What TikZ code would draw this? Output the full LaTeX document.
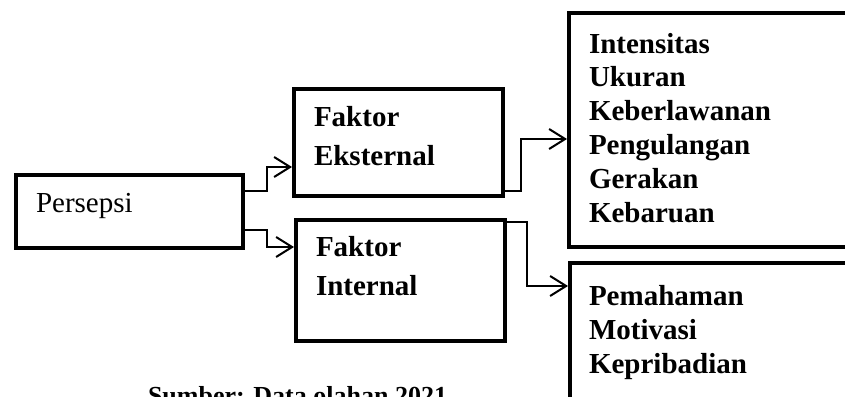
\documentclass[tikz,border=0pt]{standalone}
\usepackage{fontspec}
\setmainfont{Liberation Serif}
\usetikzlibrary{arrows.meta}
\tikzset{
  box/.style={draw=black, line width=4pt, rectangle, anchor=north west, inner sep=0pt},
  conn/.style={draw=black, line width=2pt, -{Straight Barb[length=16pt,width=20pt,line width=2pt]}},
  txt/.style={anchor=base west, inner sep=0pt, outer sep=0pt, align=left},
  midtxt/.style={txt, font=\fontsize{29}{38.5}\selectfont\bfseries},
  listtxt/.style={txt, font=\fontsize{29}{33.8}\selectfont\bfseries},
}
\begin{document}
\begin{tikzpicture}[x=1pt, y=-1pt]
\path[use as bounding box] (0,0) rectangle (845,396);
\clip (0,0) rectangle (845,396);
% boxes
\node[box, minimum width=226.5pt, minimum height=72.5pt] (P) at (14,173) {};
\node[box, minimum width=208.5pt, minimum height=107pt] (E) at (292,87) {};
\node[box, minimum width=208.5pt, minimum height=121pt] (I) at (294,218) {};
\node[box, minimum width=320pt, minimum height=234pt] (R1) at (567,11) {};
\node[box, minimum width=320pt, minimum height=170pt] (R2) at (568,260.5) {};
% texts (base anchor = baseline of the last line)
\node[txt, font=\fontsize{29}{34}\selectfont] (tP) at (36,212) {Persepsi};
\node[midtxt] (tE) at (314,165) {Faktor\\Eksternal};
\node[midtxt] (tI) at (316,295) {Faktor\\Internal};
\node[listtxt] (tR1) at (589,222) {Intensitas\\Ukuran\\Keberlawanan\\Pengulangan\\Gerakan\\Kebaruan};
\node[listtxt] (tR2) at (589,373) {Pemahaman\\Motivasi\\Kepribadian};
\node[txt, font=\fontsize{26}{30}\selectfont\bfseries] (cap) at (148,404) {Sumber: Data olahan 2021};
% connectors
\draw[conn] (P.east |- 0,191) -- (267,191) -- (267,167) -- (E.west |- 0,167);
\draw[conn] (P.east |- 0,230) -- (267,230) -- (267,247) -- (I.west |- 0,247);
\draw[conn] (E.east |- 0,191) -- (521,191) -- (521,139) -- (R1.west |- 0,139);
\draw[conn] (I.east |- 0,222) -- (527,222) -- (527,286) -- (R2.west |- 0,286);
\end{tikzpicture}
\end{document}
